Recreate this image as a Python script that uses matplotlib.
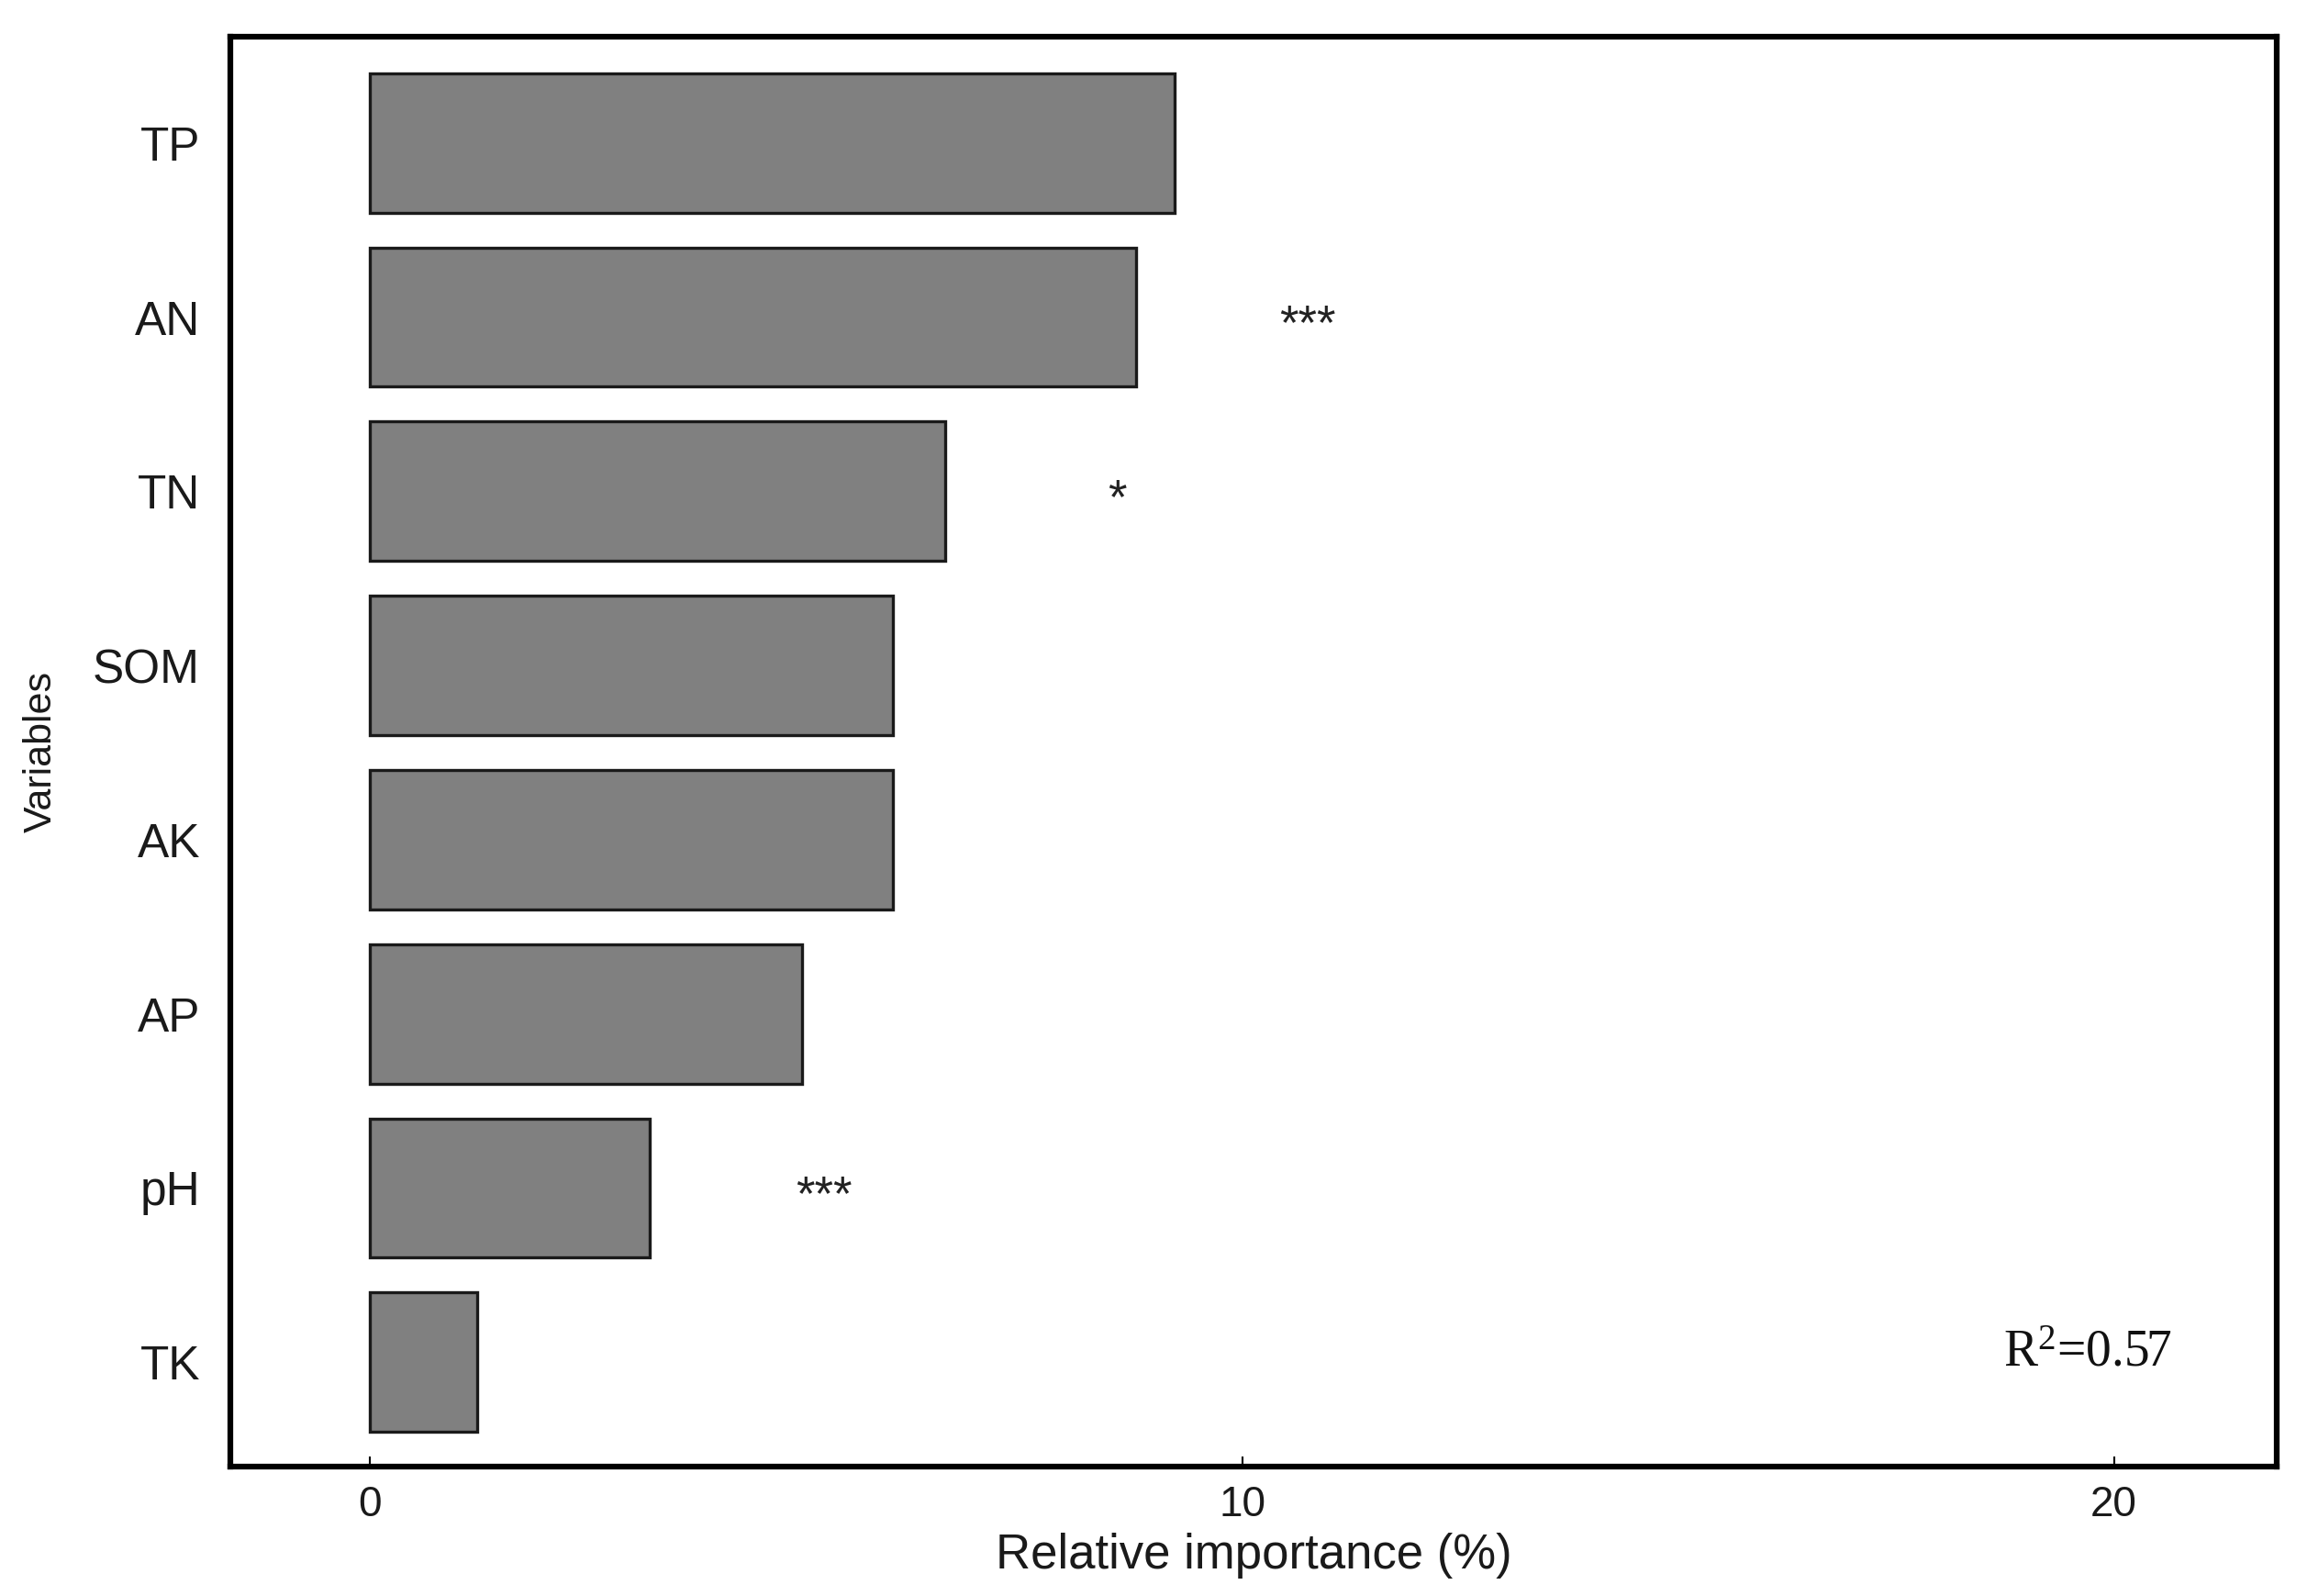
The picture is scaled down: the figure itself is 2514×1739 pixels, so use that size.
import matplotlib
matplotlib.use("Agg")
import matplotlib.pyplot as plt

# data (bottom to top)
variables = ["TK", "pH", "AP", "AK", "SOM", "TN", "AN", "TP"]
importance = [1.23, 3.21, 4.95, 5.99, 5.99, 6.60, 8.78, 9.23]
stars = {"AN": ("***", 10.75), "TN": ("*", 8.57), "pH": ("***", 5.20)}
x_ticks = [0, 10, 20]
r2_label = r"R$^{2}$=0.57"

plt.rcParams['font.family'] = ['Liberation Sans', 'DejaVu Sans']
plt.rcParams['mathtext.fontset'] = 'custom'
plt.rcParams['mathtext.rm'] = 'Liberation Serif'
plt.rcParams['mathtext.it'] = 'Liberation Serif'

fig = plt.figure(figsize=(25.14, 17.39), dpi=100)
ax = fig.add_axes([0.100, 0.081, 0.887, 0.896])

ypos = list(range(len(variables)))
ax.barh(ypos, importance, height=0.8, color='#808080',
        edgecolor='#1a1a1a', linewidth=2.4)

# significance stars
for i, name in enumerate(variables):
    if name in stars:
        txt, xs = stars[name]
        ax.text(xs, i - 0.05, txt, ha='center', va='center', fontsize=38,
                color='#222222')

ax.text(19.7, 0.05, r2_label, ha='center', va='center', fontsize=40,
        family=['Liberation Serif', 'DejaVu Serif'], color='#111111')

ax.set_xlim(-1.6, 21.87)
ax.set_ylim(-0.6, 7.61)
ax.set_yticks(ypos)
ax.set_yticklabels(variables, fontsize=37, color='#1a1a1a')
ax.set_xticks(x_ticks)
ax.set_xticklabels([str(t) for t in x_ticks], fontsize=33, color='#1a1a1a')
ax.tick_params(axis='y', length=0, pad=24)
ax.tick_params(axis='x', direction='in', length=8, width=1.5, pad=14)

ax.set_xlabel("Relative importance (%)", fontsize=38, color='#1a1a1a', labelpad=6)
ax.set_ylabel("Variables", fontsize=31, color='#1a1a1a', labelpad=26)

for s in ax.spines.values():
    s.set_linewidth(4.5)
    s.set_color('black')

fig.savefig("out.png", dpi=100)
